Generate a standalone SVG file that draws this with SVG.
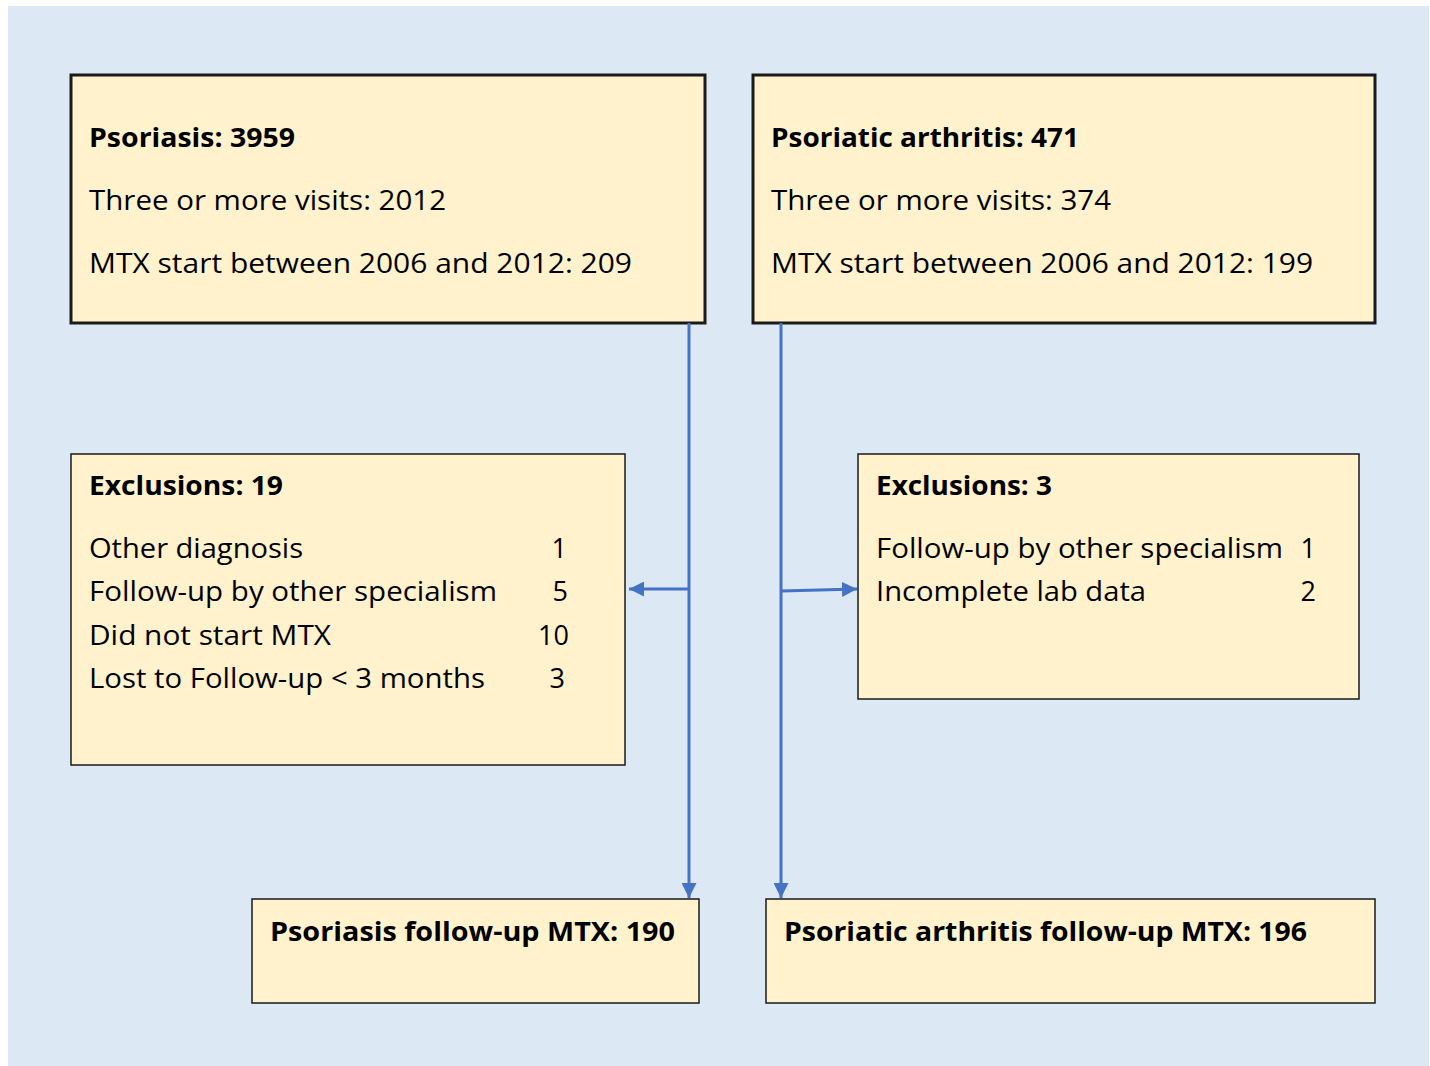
<svg xmlns="http://www.w3.org/2000/svg" width="1430" height="1066" viewBox="0 0 1430 1066">
<defs>
<style>
.bg{fill:#dde8f5}
.box{fill:#fff2cc;stroke:#1a1a1a;stroke-width:1.5}
.boxt{fill:#fff2cc;stroke:#1a1a1a;stroke-width:3}
text{font-family:"Open Sans","Noto Sans","Liberation Sans",sans-serif;font-size:27px;fill:#000}
.b{font-weight:bold}
.r{text-anchor:end}
.ln{stroke:#4472c4;stroke-width:3;fill:none}
</style>
<marker id="ah" viewBox="0 0 10 10" refX="10" refY="5" markerWidth="5" markerHeight="5" orient="auto" markerUnits="strokeWidth">
<path d="M0,0 L10,5 L0,10 z" fill="#4472c4"/>
</marker>
</defs>
<rect x="0" y="0" width="1430" height="1066" fill="#ffffff"/>
<rect class="bg" x="8" y="6" width="1421" height="1060"/>

<g id="psoriasis">
<rect class="boxt" x="71" y="75" width="634" height="248"/>
<text class="b" x="89" y="147" textLength="206" lengthAdjust="spacingAndGlyphs">Psoriasis: 3959</text>
<text x="89" y="210" textLength="357" lengthAdjust="spacingAndGlyphs">Three or more visits: 2012</text>
<text x="89" y="273" textLength="543" lengthAdjust="spacingAndGlyphs">MTX start between 2006 and 2012: 209</text>
</g>

<g id="psa">
<rect class="boxt" x="753" y="75" width="622" height="248"/>
<text class="b" x="771" y="147" textLength="308" lengthAdjust="spacingAndGlyphs">Psoriatic arthritis: 471</text>
<text x="771" y="210" textLength="340" lengthAdjust="spacingAndGlyphs">Three or more visits: 374</text>
<text x="771" y="273" textLength="542" lengthAdjust="spacingAndGlyphs">MTX start between 2006 and 2012: 199</text>
</g>

<g id="excl-left">
<rect class="box" x="71" y="454" width="554" height="311"/>
<text class="b" x="89" y="495" textLength="194" lengthAdjust="spacingAndGlyphs">Exclusions: 19</text>
<text x="89" y="558" textLength="214" lengthAdjust="spacingAndGlyphs">Other diagnosis</text>
<text x="89" y="601" textLength="408" lengthAdjust="spacingAndGlyphs">Follow-up by other specialism</text>
<text x="89" y="645" textLength="242" lengthAdjust="spacingAndGlyphs">Did not start MTX</text>
<text x="89" y="688" textLength="396" lengthAdjust="spacingAndGlyphs">Lost to Follow-up &lt; 3 months</text>
<text class="r" x="567" y="558">1</text>
<text class="r" x="568" y="601">5</text>
<text class="r" x="569" y="645">10</text>
<text class="r" x="565" y="688">3</text>
</g>

<g id="excl-right">
<rect class="box" x="858" y="454" width="501" height="245"/>
<text class="b" x="876" y="495" textLength="176" lengthAdjust="spacingAndGlyphs">Exclusions: 3</text>
<text x="876" y="558" textLength="407" lengthAdjust="spacingAndGlyphs">Follow-up by other specialism</text>
<text x="876" y="601" textLength="270" lengthAdjust="spacingAndGlyphs">Incomplete lab data</text>
<text class="r" x="1316" y="558">1</text>
<text class="r" x="1316" y="601">2</text>
</g>

<g id="pso-fu">
<rect class="box" x="252" y="899" width="447" height="104"/>
<text class="b" x="270" y="941" textLength="405" lengthAdjust="spacingAndGlyphs">Psoriasis follow-up MTX: 190</text>
</g>

<g id="psa-fu">
<rect class="box" x="766" y="899" width="609" height="104"/>
<text class="b" x="784" y="941" textLength="523" lengthAdjust="spacingAndGlyphs">Psoriatic arthritis follow-up MTX: 196</text>
</g>

<g id="connectors">
<line class="ln" x1="689" y1="323" x2="689" y2="898" marker-end="url(#ah)"/>
<line class="ln" x1="781" y1="323" x2="781" y2="898" marker-end="url(#ah)"/>
<line class="ln" x1="689" y1="589" x2="629" y2="589" marker-end="url(#ah)"/>
<line class="ln" x1="781" y1="591" x2="857" y2="589" marker-end="url(#ah)"/>
</g>
</svg>
